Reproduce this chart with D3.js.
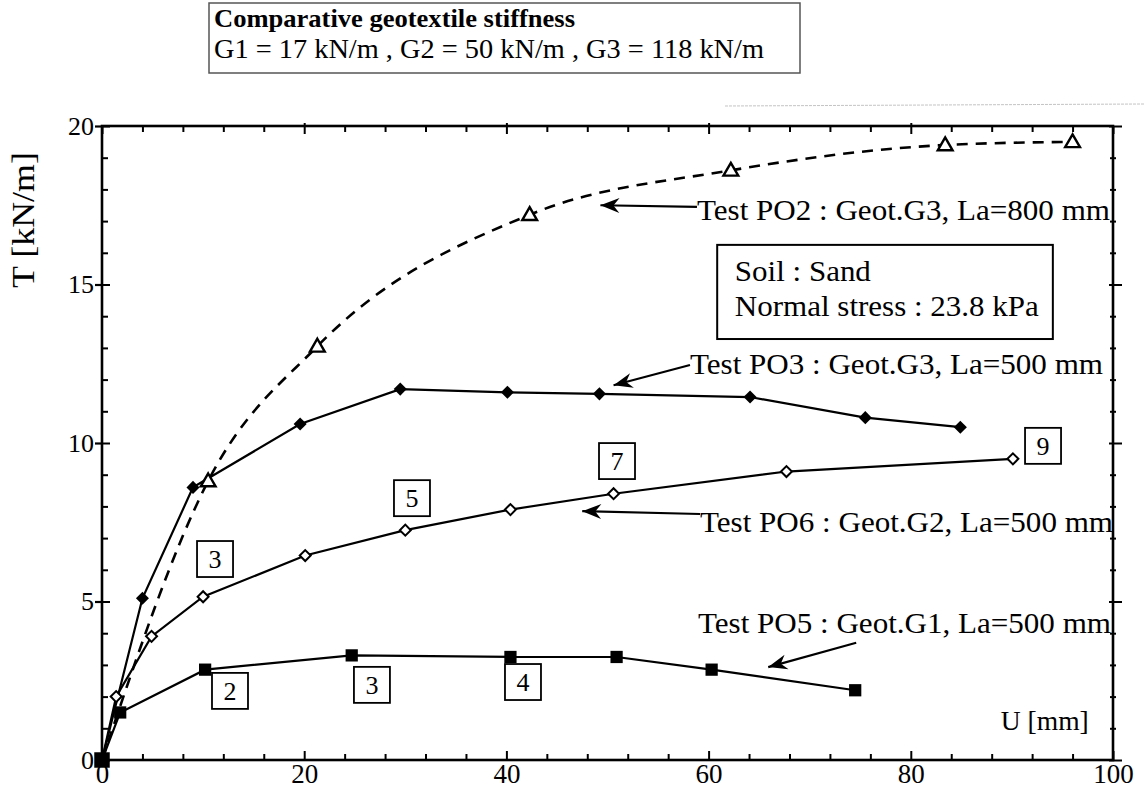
<!DOCTYPE html>
<html><head><meta charset="utf-8">
<script src="https://cdn.jsdelivr.net/npm/d3@7"></script>
<style>
html,body{margin:0;padding:0;background:#fff;}
svg{display:block;}
text{font-family:"Liberation Serif","Times New Roman",serif;fill:#000;}
</style></head>
<body>
<svg id="chart" width="1144" height="791"></svg>
<script>
// ---- data (U in mm, T in kN/m) ----
const po2U = [0, 10.5, 21.3, 42.3, 62.2, 83.4, 96.0];
const po2T = [0, 8.8, 13.05, 17.2, 18.6, 19.4, 19.5];
const po3U = [0, 4.0, 9.0, 19.6, 29.5, 40.1, 49.2, 64.1, 75.5, 84.9];
const po3T = [0, 5.1, 8.6, 10.6, 11.7, 11.6, 11.55, 11.45, 10.8, 10.5];
const po6U = [0, 1.4, 4.9, 10.0, 20.1, 30.0, 40.4, 50.6, 67.7, 90.1];
const po6T = [0, 2.0, 3.9, 5.15, 6.45, 7.25, 7.9, 8.4, 9.1, 9.5];
const po5U = [0, 1.8, 10.2, 24.7, 40.4, 50.9, 60.3, 74.5];
const po5T = [0, 1.5, 2.85, 3.3, 3.25, 3.25, 2.85, 2.2];
const xTickLabels = [0, 20, 40, 60, 80, 100];
const yTickLabels = [0, 5, 10, 15, 20];
const seriesNames = ["Test PO2 : Geot.G3, La=800 mm","Test PO3 : Geot.G3, La=500 mm",
                     "Test PO6 : Geot.G2, La=500 mm","Test PO5 : Geot.G1, La=500 mm"];
const po6StepLabels = ["3","5","7","9"];
const po5StepLabels = ["2","3","4"];
const titleLines = ["Comparative geotextile stiffness","G1 = 17 kN/m , G2 = 50 kN/m , G3 = 118 kN/m"];
const soilLines = ["Soil : Sand","Normal stress : 23.8 kPa"];
const xTitle = "U [mm]", yTitle = "T [kN/m]";

// ---- layout (data-space anchors for annotations) ----
const po6StepPos = [[11.18,6.34],[30.66,8.26],[50.94,9.43],[93.08,9.91]];
const po5StepPos = [[12.66,2.18],[26.7,2.37],[41.64,2.46]];
const labelPos = [[58.85,17.03],[58.16,12.18],[59.15,7.19],[58.95,4.0]];
const arrows = [[[58.85,17.45],[49.3,17.5]],[[58.16,12.46],[50.6,11.82]],
                [[59.15,7.76],[47.5,7.85]],[[74.6,3.7],[65.9,2.93]]];

const svg = d3.select("#chart");
const x = d3.scaleLinear().domain([0,100]).range([102,1113]);
const y = d3.scaleLinear().domain([0,20]).range([760,126]);
const xMinor = d3.range(0,101,4).filter(v=>v%20!==0);
const yMinor = d3.range(0,21,1).filter(v=>v%5!==0);

// faint scan line at top right
svg.append("line").attr("x1",725).attr("x2",1144).attr("y1",106).attr("y2",104)
  .attr("stroke","#c4c4c4").attr("stroke-width",1).attr("stroke-dasharray","3,1");

function clean(g){ g.select(".domain").remove(); g.selectAll("text").remove(); g.selectAll("line").attr("stroke","#000").attr("stroke-width",2); }

// plot frame
svg.append("rect").attr("x",x(0)).attr("y",y(20)).attr("width",x(100)-x(0)).attr("height",y(0)-y(20))
  .attr("fill","none").attr("stroke","#000").attr("stroke-width",2.6);

// bottom axis
const gB = svg.append("g").attr("transform",`translate(0,${y(0)})`);
gB.call(d3.axisBottom(x).tickValues(xTickLabels).tickSize(0).tickPadding(7).tickFormat(d3.format("d")));
gB.select(".domain").remove();
gB.selectAll("text").attr("font-size",27).attr("dy","0.6em");
svg.append("g").attr("transform",`translate(0,${y(0)})`).call(d3.axisTop(x).tickValues(xTickLabels).tickSize(9)).call(clean);
svg.append("g").attr("transform",`translate(0,${y(0)})`).call(d3.axisTop(x).tickValues(xMinor).tickSize(6)).call(clean);
// top axis
svg.append("g").attr("transform",`translate(0,${y(20)})`).call(d3.axisBottom(x).tickValues(xTickLabels).tickSize(8)).call(clean);
svg.append("g").attr("transform",`translate(0,${y(20)})`).call(d3.axisTop(x).tickValues(xTickLabels.slice(1,5)).tickSize(3)).call(clean);
svg.append("g").attr("transform",`translate(0,${y(20)})`).call(d3.axisBottom(x).tickValues(xMinor).tickSize(6)).call(clean);
// left axis
const gL = svg.append("g").attr("transform",`translate(${x(0)},0)`);
gL.call(d3.axisLeft(y).tickValues(yTickLabels).tickSize(7).tickPadding(1));
gL.select(".domain").remove();
gL.selectAll("line").attr("stroke","#000").attr("stroke-width",2.2);
gL.selectAll("text").attr("font-size",26);
svg.append("g").attr("transform",`translate(${x(0)},0)`).call(d3.axisRight(y).tickValues(yTickLabels).tickSize(8)).call(clean);
svg.append("g").attr("transform",`translate(${x(0)},0)`).call(d3.axisRight(y).tickValues(yMinor).tickSize(6)).call(clean);
// right axis
svg.append("g").attr("transform",`translate(${x(100)},0)`).call(d3.axisRight(y).tickValues(yTickLabels).tickSize(9)).call(clean);
svg.append("g").attr("transform",`translate(${x(100)},0)`).call(d3.axisLeft(y).tickValues(yTickLabels).tickSize(4)).call(clean);
svg.append("g").attr("transform",`translate(${x(100)},0)`).call(d3.axisRight(y).tickValues(yMinor).tickSize(3)).call(clean);
svg.append("g").attr("transform",`translate(${x(100)},0)`).call(d3.axisLeft(y).tickValues(yMinor).tickSize(3)).call(clean);

// axis titles
svg.append("text").attr("transform",`translate(34,${220}) rotate(-90)`).attr("text-anchor","middle")
  .attr("font-size",31).attr("textLength",136).attr("lengthAdjust","spacingAndGlyphs").text(yTitle);
svg.append("text").attr("x",x(88.9)).attr("y",y(0.95)).attr("font-size",27)
  .attr("textLength",88).attr("lengthAdjust","spacingAndGlyphs").text(xTitle);

// series
const zip = (U,T)=>U.map((u,i)=>[u,T[i]]);
const po2 = zip(po2U,po2T), po3 = zip(po3U,po3T), po6 = zip(po6U,po6T), po5 = zip(po5U,po5T);
const lineLin = d3.line().x(d=>x(d[0])).y(d=>y(d[1]));
const lineCurve = d3.line().x(d=>x(d[0])).y(d=>y(d[1])).curve(d3.curveMonotoneX);

svg.append("path").datum(po2).attr("d",lineCurve).attr("fill","none").attr("stroke","#000")
  .attr("stroke-width",2.6).attr("stroke-dasharray","11,8");
[po3,po6,po5].forEach(s=>svg.append("path").datum(s).attr("d",lineLin).attr("fill","none")
  .attr("stroke","#000").attr("stroke-width",2.2));

// markers
svg.append("g").selectAll("path").data(po2.slice(1)).join("path")
  .attr("transform",d=>`translate(${x(d[0])},${y(d[1])+1})`)
  .attr("d",d3.symbol(d3.symbolTriangle,95)).attr("fill","#fff").attr("stroke","#000").attr("stroke-width",2.4);
svg.append("g").selectAll("path").data(po3.slice(1)).join("path")
  .attr("transform",d=>`translate(${x(d[0])},${y(d[1])}) rotate(45)`)
  .attr("d",d3.symbol(d3.symbolSquare,85)).attr("fill","#000");
svg.append("g").selectAll("path").data(po6.slice(1)).join("path")
  .attr("transform",d=>`translate(${x(d[0])},${y(d[1])}) rotate(45)`)
  .attr("d",d3.symbol(d3.symbolSquare,60)).attr("fill","#fff").attr("stroke","#000").attr("stroke-width",2);
svg.append("g").selectAll("path").data(po5).join("path")
  .attr("transform",(d,i)=>`translate(${x(d[0])},${y(d[1])})`)
  .attr("d",(d,i)=>d3.symbol(d3.symbolSquare,i===0?240:150)()).attr("fill","#000");

// step label boxes
function stepBox(txt,pos){
  const g = svg.append("g").attr("transform",`translate(${x(pos[0])},${y(pos[1])})`);
  g.append("rect").attr("x",-18).attr("y",-18).attr("width",36).attr("height",36)
    .attr("fill","#fff").attr("stroke","#000").attr("stroke-width",1.8);
  g.append("text").attr("text-anchor","middle").attr("y",9).attr("font-size",26).text(txt);
}
po6StepLabels.forEach((t,i)=>stepBox(t,po6StepPos[i]));
po5StepLabels.forEach((t,i)=>stepBox(t,po5StepPos[i]));

// arrowhead
svg.append("defs").append("marker").attr("id","arr").attr("viewBox","-20 -8 22 16")
  .attr("refX",0).attr("refY",0).attr("markerWidth",22).attr("markerHeight",16)
  .attr("markerUnits","userSpaceOnUse").attr("orient","auto")
  .append("path").attr("d","M0,0 L-19,-7.5 L-13,0 L-19,7.5 Z").attr("fill","#000");

arrows.forEach(a=>svg.append("line").attr("x1",x(a[0][0])).attr("y1",y(a[0][1]))
  .attr("x2",x(a[1][0])).attr("y2",y(a[1][1])).attr("stroke","#000").attr("stroke-width",2.2)
  .attr("marker-end","url(#arr)"));

seriesNames.forEach((s,i)=>svg.append("text").attr("x",x(labelPos[i][0])).attr("y",y(labelPos[i][1]))
  .attr("font-size",29).attr("textLength",413).attr("lengthAdjust","spacingAndGlyphs").text(s));

// soil info box
svg.append("rect").attr("x",x(60.85)).attr("y",y(16.25)).attr("width",x(94.05)-x(60.85)).attr("height",y(13.28)-y(16.25))
  .attr("fill","#fff").attr("stroke","#000").attr("stroke-width",2);
svg.append("text").attr("x",x(62.6)).attr("y",y(15.1)).attr("font-size",29).attr("textLength",136)
  .attr("lengthAdjust","spacingAndGlyphs").text(soilLines[0]);
svg.append("text").attr("x",x(62.6)).attr("y",y(14.0)).attr("font-size",29).attr("textLength",304)
  .attr("lengthAdjust","spacingAndGlyphs").text(soilLines[1]);

// title box
svg.append("rect").attr("x",209).attr("y",3).attr("width",591).attr("height",70)
  .attr("fill","#fff").attr("stroke","#555").attr("stroke-width",1.5);
svg.append("text").attr("x",214).attr("y",27).attr("font-size",25).attr("font-weight","bold")
  .attr("textLength",361).attr("lengthAdjust","spacingAndGlyphs").text(titleLines[0]);
svg.append("text").attr("x",214).attr("y",58).attr("font-size",27)
  .attr("textLength",550).attr("lengthAdjust","spacingAndGlyphs").text(titleLines[1]);
</script>
</body></html>
